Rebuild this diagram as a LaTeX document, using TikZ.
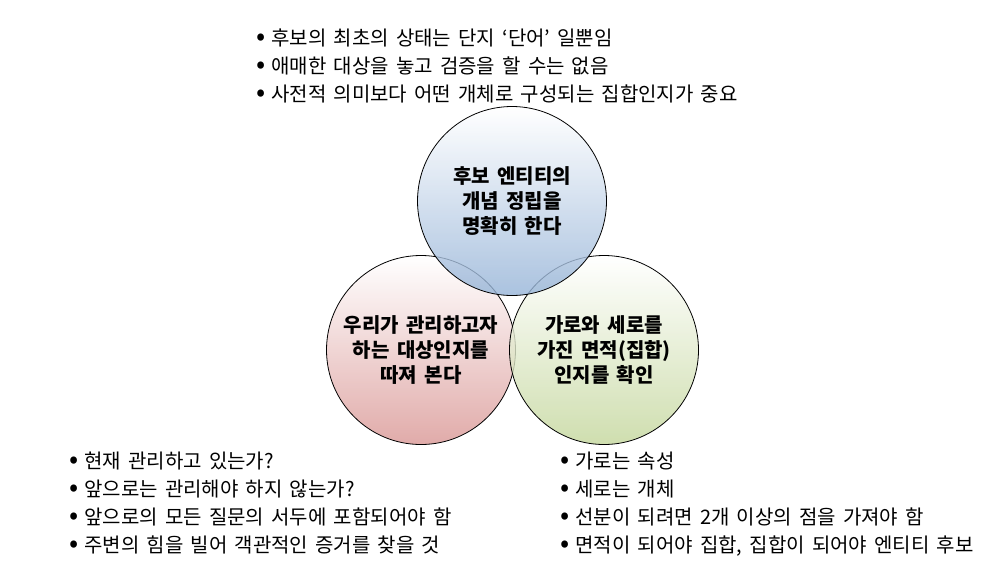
\documentclass[tikz,border=0pt]{standalone}
\usepackage{fontspec}
\setmainfont{Noto Sans CJK KR}[WordSpace=1.6]
\definecolor{vennblue}{HTML}{95B3D7}
\definecolor{vennred}{HTML}{D99694}
\definecolor{venngreen}{HTML}{C3D69B}
\newcommand\bul{{\fontsize{27}{0}\selectfont •}\hspace{6pt}}
\tikzset{
  venn/.style={circle,draw=black,line width=0.8pt,minimum size=189pt,inner sep=0pt,
    top color=white,shading angle=45,fill opacity=0.8,text opacity=1,
    align=center,font=\fontsize{20}{25}\selectfont\bfseries},
  notes/.style={anchor=north west,inner sep=0pt,align=left,
    font=\fontsize{20}{27.8}\selectfont}
}
\begin{document}
\begin{tikzpicture}[x=1pt,y=-1pt,line cap=round,line join=round]
  \useasboundingbox (0,0) rectangle (1003,565);

  % Circles
  \node[venn,bottom color=vennred] (obj) at (421,350)
    {우리가 관리하고자\\하는 대상인지를\\따져 본다};
  \node[venn,bottom color=venngreen] (area) at (604,350)
    {가로와 세로를\\가진 면적(집합)\\인지를 확인};
  \node[venn,bottom color=vennblue] (cand) at (512,201)
    {후보 엔티티의\\개념 정립을\\명확히 한다};

  % Notes
  \node[notes] (candnote) at (256,29)
    {\bul 후보의 최초의 상태는 단지 ‘단어’ 일뿐임\\
     \bul 애매한 대상을 놓고 검증을 할 수는 없음\\
     \bul 사전적 의미보다 어떤 개체로 구성되는 집합인지가 중요};
  \node[notes] (objnote) at (69,452)
    {\bul 현재 관리하고 있는가?\\
     \bul 앞으로는 관리해야 하지 않는가?\\
     \bul 앞으로의 모든 질문의 서두에 포함되어야 함\\
     \bul 주변의 힘을 빌어 객관적인 증거를 찾을 것};
  \node[notes] (areanote) at (560,452)
    {\bul 가로는 속성\\
     \bul 세로는 개체\\
     \bul 선분이 되려면 2개 이상의 점을 가져야 함\\
     \bul 면적이 되어야 집합, 집합이 되어야 엔티티 후보};
\end{tikzpicture}
\end{document}
